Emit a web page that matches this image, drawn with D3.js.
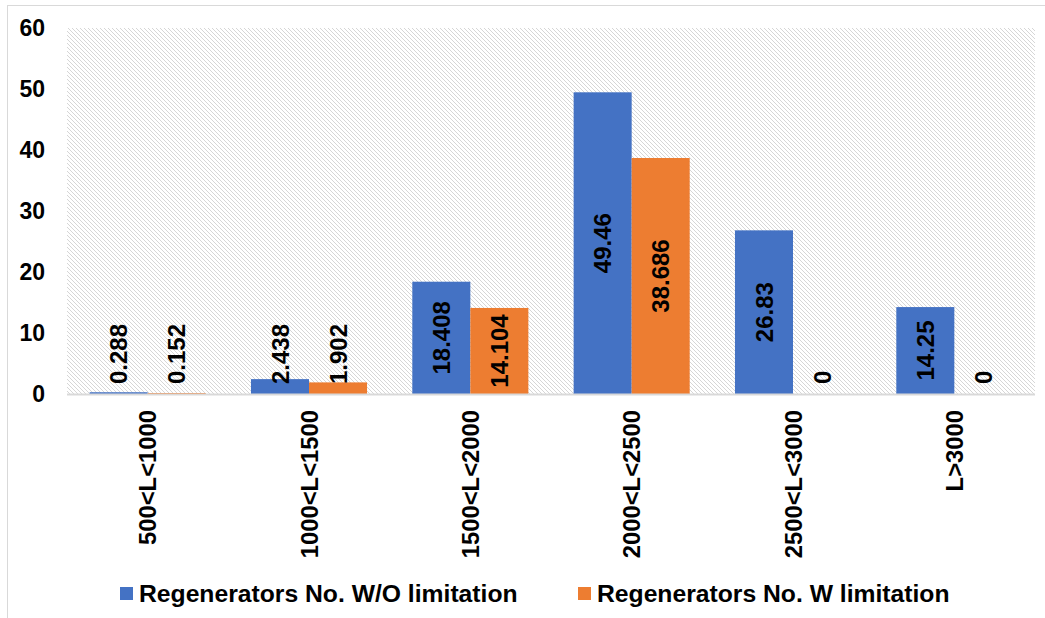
<!DOCTYPE html>
<html>
<head>
<meta charset="utf-8">
<script src="https://cdn.jsdelivr.net/npm/d3@7"></script>
<style>
  html, body { margin: 0; padding: 0; background: #fff; }
  svg { display: block; font-family: "Liberation Sans", Arial, sans-serif; }
</style>
</head>
<body>
<svg id="chart" width="1045" height="618"></svg>
<script>
const categories = ["500<L<1000", "1000<L<1500", "1500<L<2000", "2000<L<2500", "2500<L<3000", "L>3000"];
const seriesNames = ["Regenerators No. W/O limitation", "Regenerators No. W limitation"];
const withoutLimitation = [0.288, 2.438, 18.408, 49.46, 26.83, 14.25];
const withLimitation = [0.152, 1.902, 14.104, 38.686, 0, 0];
const yTicks = [0, 10, 20, 30, 40, 50, 60];
const colors = ["#4472C4", "#ED7D31"];

const series = [withoutLimitation, withLimitation];
const svg = d3.select("#chart");

const plot = { left: 67, right: 1035, top: 28, bottom: 394 };

// frame
svg.append("line").attr("x1", 7.5).attr("x2", 7.5).attr("y1", 5).attr("y2", 618).attr("stroke", "#d9d9d9").attr("stroke-width", 1);
svg.append("line").attr("x1", 7).attr("x2", 1045).attr("y1", 5.5).attr("y2", 5.5).attr("stroke", "#d9d9d9").attr("stroke-width", 1);

// hatch pattern
const defs = svg.append("defs");
const pat = defs.append("pattern").attr("id", "hatch").attr("patternUnits", "userSpaceOnUse")
  .attr("width", 4).attr("height", 4);
pat.append("rect").attr("width", 4).attr("height", 4).attr("fill", "#ffffff");
pat.append("path").attr("d", "M-1,-1 L5,5 M-1,3 L1,5 M3,-1 L5,1")
  .attr("stroke", "#d6d6d6").attr("stroke-width", 1);

const x0 = d3.scaleBand().domain(categories).range([plot.left, plot.right]).padding(0);
const x1 = d3.scaleBand().domain([0, 1]).range([0, x0.bandwidth()]).paddingInner(0).paddingOuter(0.39);
const y = d3.scaleLinear().domain([0, 60]).range([plot.bottom, plot.top]);

svg.append("rect").attr("x", plot.left).attr("y", plot.top)
  .attr("width", plot.right - plot.left).attr("height", plot.bottom - plot.top)
  .attr("fill", "url(#hatch)");

// bars
categories.forEach((c, i) => {
  series.forEach((s, k) => {
    const v = s[i];
    svg.append("rect")
      .attr("x", x0(c) + x1(k))
      .attr("y", y(v))
      .attr("width", x1.bandwidth())
      .attr("height", y(0) - y(v))
      .attr("fill", colors[k]);
  });
});

// zero line
svg.append("line").attr("x1", plot.left).attr("x2", plot.right)
  .attr("y1", y(0) + 0.5).attr("y2", y(0) + 0.5)
  .attr("stroke", "#d9d9d9").attr("stroke-width", 2);

// y axis labels
const yAxis = d3.axisLeft(y).tickValues(yTicks).tickSize(0).tickPadding(0);
const yg = svg.append("g").attr("transform", `translate(45,0)`).call(yAxis);
yg.select(".domain").remove();
yg.selectAll("text").attr("font-size", 23).attr("font-weight", "bold").attr("fill", "#000")
  .attr("font-family", "Liberation Sans, Arial, sans-serif");

// x axis labels (rotated)
categories.forEach(c => {
  const cx = x0(c) + x0.bandwidth() / 2;
  svg.append("text")
    .attr("transform", `translate(${cx},${410}) rotate(-90)`)
    .attr("text-anchor", "end")
    .attr("dy", "0.36em")
    .attr("font-size", 23.8).attr("font-weight", "bold").attr("fill", "#000")
    .text(c);
});

// data labels
const fs = 24;
categories.forEach((c, i) => {
  series.forEach((s, k) => {
    const v = s[i];
    const cx = x0(c) + x1(k) + x1.bandwidth() / 2;
    const t = svg.append("text")
      .attr("font-size", fs).attr("font-weight", "bold").attr("fill", "#000")
      .attr("dy", "0.36em")
      .text(String(v));
    const len = t.node().getComputedTextLength();
    const h = y(0) - y(v);
    if (len + 6 < h) {
      const cy = (y(v) + y(0)) / 2;
      t.attr("text-anchor", "middle").attr("transform", `translate(${cx},${cy}) rotate(-90)`);
    } else {
      t.attr("text-anchor", "start").attr("transform", `translate(${cx},${384}) rotate(-90)`);
    }
  });
});

// legend
const legendItems = [{ x: 120, tx: 139 }, { x: 578, tx: 597 }];
legendItems.forEach((li, k) => {
  svg.append("rect").attr("x", li.x).attr("y", 587).attr("width", 13).attr("height", 13).attr("fill", colors[k]);
  svg.append("text").attr("x", li.tx).attr("y", 602)
    .attr("font-size", 24.7).attr("font-weight", "bold").attr("fill", "#000")
    .text(seriesNames[k]);
});
</script>
</body>
</html>
